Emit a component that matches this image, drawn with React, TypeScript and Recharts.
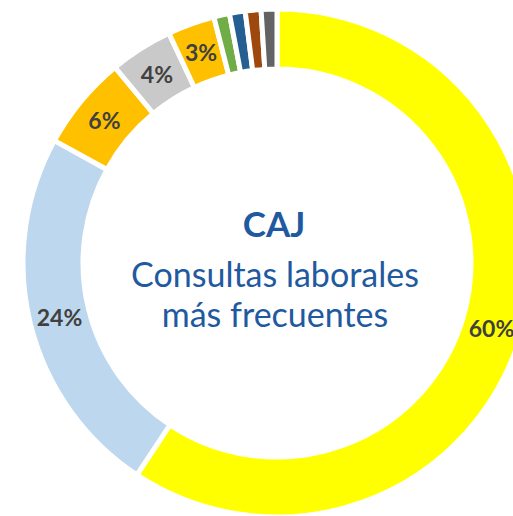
import React from 'react';
import { PieChart, Pie, Cell } from 'recharts';

// share of consultations (percent), clockwise from 12 o'clock
const categories = ['A', 'B', 'C', 'D', 'E', 'F', 'G', 'H', 'I'];
const shares = [59.3, 23.7, 6, 4, 3, 1, 1, 1, 1];
const labels = ['60%', '24%', '6%', '4%', '3%', '', '', '', ''];
const colors = ['#FFFF00', '#BDD7EE', '#FFC000', '#C9C9C9', '#FFC000', '#70AD47', '#255E91', '#9E480E', '#636363'];

const data = categories.map((name, i) => ({ name, value: shares[i], label: labels[i] }));

const RADIAN = Math.PI / 180;

const renderLabel = (props: any) => {
  const { cx, cy, midAngle, innerRadius, outerRadius, index } = props;
  const text = labels[index];
  if (!text) return null;
  const r = (innerRadius + outerRadius) / 2;
  const x = cx + r * Math.cos(-midAngle * RADIAN);
  const y = cy + r * Math.sin(-midAngle * RADIAN);
  return (
    <text
      x={x}
      y={y}
      textAnchor="middle"
      dominantBaseline="central"
      fill="#404040"
      fontFamily="Lato, sans-serif"
      fontWeight={700}
      fontSize={23}
    >
      {text}
    </text>
  );
};

export default function App() {
  return (
    <div style={{ position: 'fixed', left: 0, top: 0, width: 513, height: 516, overflow: 'hidden', background: '#fff' }}>
      <PieChart width={513} height={516} margin={{ top: 0, right: 0, bottom: 0, left: 0 }}>
        <Pie
          data={data}
          dataKey="value"
          cx={277}
          cy={263}
          innerRadius={194}
          outerRadius={254}
          startAngle={90}
          endAngle={-270}
          stroke="#ffffff"
          strokeWidth={5}
          label={renderLabel}
          labelLine={false}
          isAnimationActive={false}
        >
          {data.map((entry, index) => (
            <Cell key={`cell-${index}`} fill={colors[index]} />
          ))}
        </Pie>
      </PieChart>
      <svg width={513} height={516} style={{ position: 'absolute', left: 0, top: 0, pointerEvents: 'none' }}>
        <g fontFamily="Lato, sans-serif" fill="#1F5AA0" textAnchor="middle">
          <text x={274} y={237} fontSize={35} fontWeight={700}>CAJ</text>
          <text x={275} y={287} fontSize={34}>Consultas laborales</text>
          <text x={275} y={327} fontSize={34}>más frecuentes</text>
        </g>
      </svg>
    </div>
  );
}
